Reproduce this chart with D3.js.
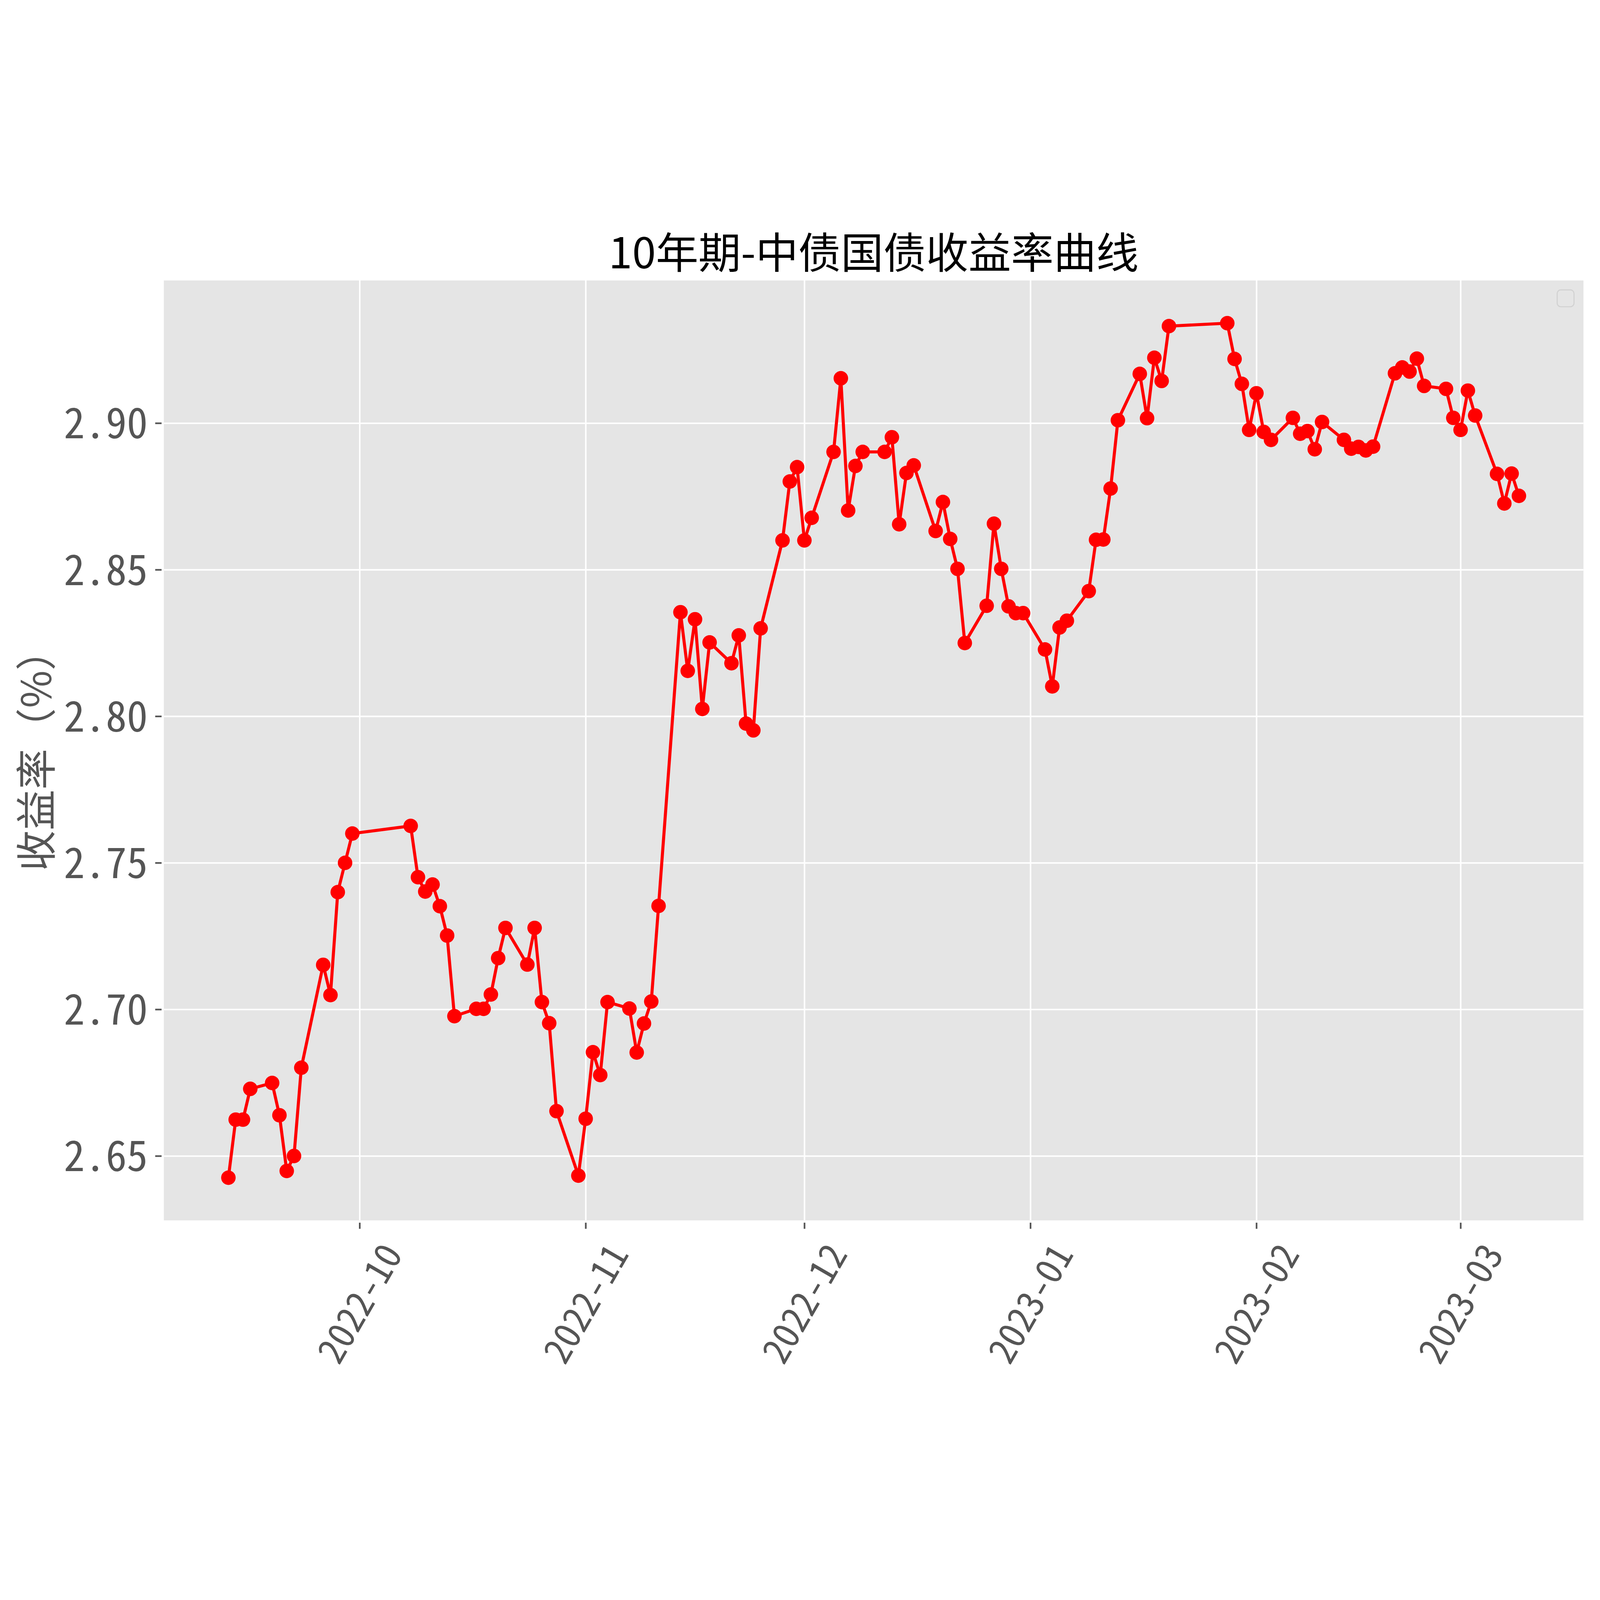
<!DOCTYPE html>
<meta charset="utf-8">
<body style="margin:0;background-color:white;overflow:hidden;">
<svg viewBox="0 0 6278 4573" style="display:block;width:100vw;height:100vh;"></svg>
<script src="https://d3js.org/d3.v7.min.js"></script>
<script>

// trading days shown on the chart
var dates = [
  "2022-09-13","2022-09-14","2022-09-15","2022-09-16","2022-09-19","2022-09-20","2022-09-21","2022-09-22","2022-09-23",
  "2022-09-26","2022-09-27","2022-09-28","2022-09-29","2022-09-30",
  "2022-10-08","2022-10-09","2022-10-10","2022-10-11","2022-10-12","2022-10-13","2022-10-14",
  "2022-10-17","2022-10-18","2022-10-19","2022-10-20","2022-10-21","2022-10-24","2022-10-25","2022-10-26","2022-10-27","2022-10-28","2022-10-31",
  "2022-11-01","2022-11-02","2022-11-03","2022-11-04","2022-11-07","2022-11-08","2022-11-09","2022-11-10","2022-11-11",
  "2022-11-14","2022-11-15","2022-11-16","2022-11-17","2022-11-18","2022-11-21","2022-11-22","2022-11-23","2022-11-24","2022-11-25",
  "2022-11-28","2022-11-29","2022-11-30",
  "2022-12-01","2022-12-02","2022-12-05","2022-12-06","2022-12-07","2022-12-08","2022-12-09","2022-12-12","2022-12-13","2022-12-14",
  "2022-12-15","2022-12-16","2022-12-19","2022-12-20","2022-12-21","2022-12-22","2022-12-23","2022-12-26","2022-12-27","2022-12-28",
  "2022-12-29","2022-12-30","2022-12-31",
  "2023-01-03","2023-01-04","2023-01-05","2023-01-06","2023-01-09","2023-01-10","2023-01-11","2023-01-12","2023-01-13",
  "2023-01-16","2023-01-17","2023-01-18","2023-01-19","2023-01-20","2023-01-28","2023-01-29","2023-01-30","2023-01-31",
  "2023-02-01","2023-02-02","2023-02-03","2023-02-06","2023-02-07","2023-02-08","2023-02-09","2023-02-10","2023-02-13","2023-02-14",
  "2023-02-15","2023-02-16","2023-02-17","2023-02-20","2023-02-21","2023-02-22","2023-02-23","2023-02-24","2023-02-27","2023-02-28",
  "2023-03-01","2023-03-02","2023-03-03","2023-03-06","2023-03-07","2023-03-08","2023-03-09"
];

// 10y yield, %
var yields = [
  2.6426, 2.6624, 2.6624, 2.6729, 2.6749, 2.6639, 2.6449, 2.6500, 2.6801, 2.7152, 2.7049, 2.7400, 2.7500, 2.7600,
  2.7626, 2.7451, 2.7402, 2.7426, 2.7352, 2.7252, 2.6977, 2.7002, 2.7002, 2.7051, 2.7175, 2.7278, 2.7153, 2.7278, 2.7025, 2.6953, 2.6653, 2.6433,
  2.6627, 2.6854, 2.6776, 2.7025, 2.7003, 2.6853, 2.6952, 2.7027, 2.7353, 2.8355, 2.8155, 2.8331, 2.8025, 2.8252, 2.8181, 2.8276, 2.7975, 2.7952, 2.8300,
  2.8600, 2.8801, 2.8850,
  2.8600, 2.8677, 2.8902, 2.9153, 2.8702, 2.8854, 2.8902, 2.8902, 2.8952, 2.8655, 2.8830, 2.8856, 2.8632, 2.8731, 2.8605, 2.8503, 2.8250,
  2.8377, 2.8657, 2.8503, 2.8375, 2.8352, 2.8352,
  2.8228, 2.8102, 2.8303, 2.8326, 2.8427, 2.8602, 2.8603, 2.8777, 2.9010, 2.9168, 2.9017, 2.9223, 2.9144, 2.9331, 2.9341, 2.9219, 2.9134, 2.8977,
  2.9102, 2.8970, 2.8943, 2.9018, 2.8964, 2.8973, 2.8911, 2.9004, 2.8943, 2.8913, 2.8919, 2.8907, 2.8920, 2.9170, 2.9190, 2.9176, 2.9220, 2.9127, 2.9117, 2.9018,
  2.8977, 2.9111, 2.9026, 2.8827, 2.8726, 2.8828, 2.8752
];

var yTickValues = [2.65, 2.70, 2.75, 2.80, 2.85, 2.90];
var titleText = "10年期-中债国债收益率曲线";
var yLabelText = "收益率（%）";

var parseDate = d3.timeParse("%Y-%m-%d");
var points = dates.map(function(d, i) { return {date: parseDate(d), value: yields[i]}; });

// plot box (window.top is read-only, so no bare "top")
var plotLeft = 643, plotRight = 6213, plotTop = 248, plotBottom = 3936;
var tickFont = "'Noto Sans Mono CJK SC', 'DejaVu Sans Mono', monospace";
var cjkFont = "'Noto Sans CJK SC', sans-serif";

// matplotlib style 5% margins
var xExt = d3.extent(points, function(d) { return d.date; });
var xPad = (xExt[1] - xExt[0]) * 0.05;
var x = d3.scaleTime()
          .domain([new Date(+xExt[0] - xPad), new Date(+xExt[1] + xPad)])
          .range([plotLeft, plotRight]);

var yExt = d3.extent(yields);
var yPad = (yExt[1] - yExt[0]) * 0.05;
var y = d3.scaleLinear()
          .domain([yExt[0] - yPad, yExt[1] + yPad])
          .range([plotBottom, plotTop]);

var svg = d3.select("svg");

svg.append("rect")
   .attr("x", plotLeft).attr("y", plotTop)
   .attr("width", plotRight - plotLeft).attr("height", plotBottom - plotTop)
   .attr("fill", "#e5e5e5");

var xTicks = x.ticks(d3.timeMonth.every(1));

// grid
svg.append("g")
   .attr("transform", "translate(" + plotLeft + ",0)")
   .call(d3.axisLeft(y).tickValues(yTickValues).tickSize(-(plotRight - plotLeft)).tickFormat(""))
   .call(function(g) { g.select(".domain").remove(); })
   .selectAll("line").attr("stroke", "white").attr("stroke-width", 6);

svg.append("g")
   .attr("transform", "translate(0," + plotBottom + ")")
   .call(d3.axisBottom(x).tickValues(xTicks).tickSize(-(plotBottom - plotTop)).tickFormat(""))
   .call(function(g) { g.select(".domain").remove(); })
   .selectAll("line").attr("stroke", "white").attr("stroke-width", 6);

// y axis
var yAxis = svg.append("g")
   .attr("transform", "translate(634,0)")
   .call(d3.axisLeft(y).tickValues(yTickValues).tickSize(25).tickPadding(29).tickFormat(d3.format(".2f")));
yAxis.select(".domain").remove();
yAxis.selectAll("line").attr("stroke", "#555555").attr("stroke-width", 6.5);
yAxis.selectAll("text")
     .attr("fill", "#555555")
     .attr("font-family", tickFont)
     .attr("font-size", 165)
     .attr("dy", "0.36em");

// x axis
var xAxis = svg.append("g")
   .attr("transform", "translate(0,3945)")
   .call(d3.axisBottom(x).tickValues(xTicks).tickSize(24).tickFormat(d3.timeFormat("%Y-%m")));
xAxis.select(".domain").remove();
xAxis.selectAll("line").attr("stroke", "#555555").attr("stroke-width", 6.5);
xAxis.selectAll("text")
     .attr("fill", "#555555")
     .attr("font-family", tickFont)
     .attr("font-size", 145)
     .attr("text-anchor", "middle")
     .attr("y", 0)
     .attr("dy", "0.36em")
     .attr("transform", "translate(0,317) rotate(-60)");

// line + markers
var line = d3.line()
             .x(function(d) { return x(d.date); })
             .y(function(d) { return y(d.value); });

svg.append("path")
   .datum(points)
   .attr("d", line)
   .attr("fill", "none")
   .attr("stroke", "#ff0000")
   .attr("stroke-width", 12)
   .attr("stroke-linejoin", "round");

svg.append("g").selectAll("circle")
   .data(points)
   .enter().append("circle")
   .attr("cx", function(d) { return x(d.date); })
   .attr("cy", function(d) { return y(d.value); })
   .attr("r", 28.5)
   .attr("fill", "#ff0000");

// empty legend box
svg.append("rect")
   .attr("x", 6110).attr("y", 285)
   .attr("width", 66).attr("height", 66)
   .attr("rx", 14)
   .attr("fill", "#e5e5e5")
   .attr("stroke", "#d1d1d1")
   .attr("stroke-width", 4);

// title
svg.append("text")
   .attr("x", (plotLeft + plotRight) / 2)
   .attr("y", 200)
   .attr("text-anchor", "middle")
   .attr("font-family", cjkFont)
   .attr("font-size", 167)
   .attr("fill", "black")
   .text(titleText);

// y label
svg.append("text")
   .attr("transform", "translate(201," + ((plotTop + plotBottom) / 2) + ") rotate(-90)")
   .attr("text-anchor", "middle")
   .attr("font-family", cjkFont)
   .attr("font-size", 160)
   .attr("fill", "#555555")
   .text(yLabelText);

</script>
</body>
